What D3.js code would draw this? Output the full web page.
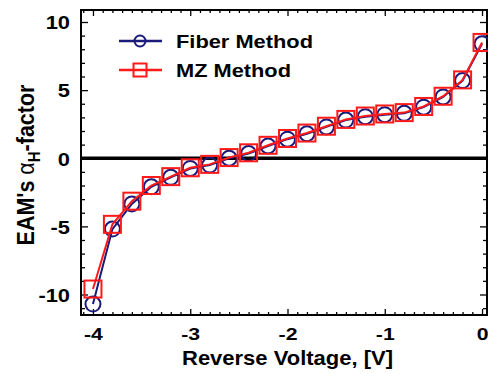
<!DOCTYPE html>
<html><head><meta charset="utf-8">
<script src="https://cdn.jsdelivr.net/npm/d3@7"></script>
<style>body{margin:0;background:#fff}svg{display:block}text{font-family:Arial,"Liberation Sans",sans-serif;font-weight:bold}</style>
</head><body><svg id="c" width="488" height="374"></svg>
<script>
const voltages = [-4,-3.8,-3.6,-3.4,-3.2,-3.0,-2.8,-2.6,-2.4,-2.2,-2.0,-1.8,-1.6,-1.4,-1.2,-1.0,-0.8,-0.6,-0.4,-0.2,0];
const fiberAlpha = [-10.7,-5.2,-3.35,-2.1,-1.4,-0.75,-0.5,0.0,0.35,0.9,1.4,1.8,2.3,2.8,3.05,3.2,3.3,3.75,4.5,5.7,8.4];
const mzAlpha = [-9.6,-4.85,-3.15,-2.0,-1.35,-0.7,-0.45,0.05,0.4,0.95,1.45,1.85,2.35,2.85,3.1,3.25,3.35,3.8,4.55,5.75,8.5];
const xTicks = [-4,-3,-2,-1,0];
const yTicks = [-10,-5,0,5,10];
const seriesNames = ["Fiber Method","MZ Method"];

const svg = d3.select("#c");
const L=81,R=487,T=10,B=315;
const x = d3.scaleLinear().domain([-4.123,0.051]).range([L,R]);
const y = d3.scaleLinear().domain([-10,10]).range([294.5,22]);
const fmt = d => String(d);

const xMinor = d3.range(-41,1).map(d=>d/10).filter(d=>Math.abs(d-Math.round(d))>1e-6);
const yMinor = d3.range(-11,11).filter(d=>d%5!==0);

const gx = svg.append("g").attr("transform",`translate(0,${B})`)
  .call(d3.axisBottom(x).tickValues(xTicks).tickFormat(fmt).tickSize(-6));
const gxm = svg.append("g").attr("transform",`translate(0,${B})`)
  .call(d3.axisBottom(x).tickValues(xMinor).tickFormat("").tickSize(-3));
const gt = svg.append("g").attr("transform",`translate(0,${T})`)
  .call(d3.axisTop(x).tickValues(xTicks).tickFormat("").tickSize(-6));
const gtm = svg.append("g").attr("transform",`translate(0,${T})`)
  .call(d3.axisTop(x).tickValues(xMinor).tickFormat("").tickSize(-3));
const gy = svg.append("g").attr("transform",`translate(${L},0)`)
  .call(d3.axisLeft(y).tickValues(yTicks).tickFormat(fmt).tickSize(-7));
const gym = svg.append("g").attr("transform",`translate(${L},0)`)
  .call(d3.axisLeft(y).tickValues(yMinor).tickFormat("").tickSize(-4));
const gr = svg.append("g").attr("transform",`translate(${R},0)`)
  .call(d3.axisRight(y).tickValues(yTicks).tickFormat("").tickSize(-7));
const grm = svg.append("g").attr("transform",`translate(${R},0)`)
  .call(d3.axisRight(y).tickValues(yMinor).tickFormat("").tickSize(-4));
[gx,gxm,gt,gtm,gy,gym,gr,grm].forEach(g=>{
  g.select(".domain").remove();
  g.selectAll("line").attr("stroke","#000").attr("stroke-width",1.3);
});
gx.selectAll("text").attr("font-size",17).attr("fill","#000").attr("font-weight","bold")
  .attr("y",0).attr("dy",0).attr("transform","translate(0,25) scale(1.25,1)");
gy.selectAll("text").attr("font-size",19).attr("fill","#000").attr("font-weight","bold")
  .attr("x",0).attr("dy","0.36em").attr("transform","translate(-11,0) scale(1.15,1)");

svg.append("rect").attr("x",L).attr("y",T).attr("width",R-L).attr("height",B-T)
  .attr("fill","none").attr("stroke","#000").attr("stroke-width",2);

svg.append("line").attr("x1",L).attr("x2",R).attr("y1",y(0)).attr("y2",y(0))
  .attr("stroke","#000").attr("stroke-width",3.5);

const blue="#1a1a7a", red="#ff1a1a";
const line = d3.line().x((d,i)=>x(voltages[i])).y(d=>y(d));
svg.append("path").attr("d",line(fiberAlpha)).attr("fill","none").attr("stroke",blue).attr("stroke-width",2);
svg.selectAll(".fc").data(fiberAlpha).enter().append("circle")
  .attr("cx",(d,i)=>x(voltages[i])).attr("cy",d=>y(d)).attr("r",7.5)
  .attr("fill","none").attr("stroke",blue).attr("stroke-width",2);
svg.append("path").attr("d",line(mzAlpha)).attr("fill","none").attr("stroke",red).attr("stroke-width",2);
svg.selectAll(".ms").data(mzAlpha).enter().append("rect")
  .attr("x",(d,i)=>x(voltages[i])-8.5).attr("y",d=>y(d)-8.5).attr("width",17).attr("height",17)
  .attr("fill","none").attr("stroke",red).attr("stroke-width",2);

const lg = svg.append("g");
[[blue,41,137],[red,70,115]].forEach(([c,ly,tl],i)=>{
  lg.append("line").attr("x1",119).attr("x2",162).attr("y1",ly).attr("y2",ly).attr("stroke",c).attr("stroke-width",2.5);
  if(i===0) lg.append("circle").attr("cx",140).attr("cy",ly).attr("r",5.5).attr("fill","none").attr("stroke",c).attr("stroke-width",2);
  else lg.append("rect").attr("x",133.5).attr("y",ly-6.5).attr("width",13).attr("height",13).attr("fill","none").attr("stroke",c).attr("stroke-width",2);
  lg.append("text").attr("x",176).attr("y",ly+6.5).attr("font-size",18.5).attr("fill","#000")
    .attr("textLength",tl).attr("lengthAdjust","spacingAndGlyphs").text(seriesNames[i]);
});

svg.append("text").attr("x",182).attr("y",365).attr("font-size",21).attr("fill","#000")
  .attr("textLength",211).attr("lengthAdjust","spacingAndGlyphs").text("Reverse Voltage, [V]");
const yt = svg.append("text").attr("transform","translate(34,165) scale(1.15,1) rotate(-90)").attr("text-anchor","middle")
  .attr("font-size",21.5).attr("fill","#000");
yt.append("tspan").text("EAM's ");
yt.append("tspan").attr("font-weight","normal").text("α");
yt.append("tspan").attr("font-size",15).attr("dy",5).text("H");
yt.append("tspan").attr("dy",-5).text("-factor");
</script></body></html>
